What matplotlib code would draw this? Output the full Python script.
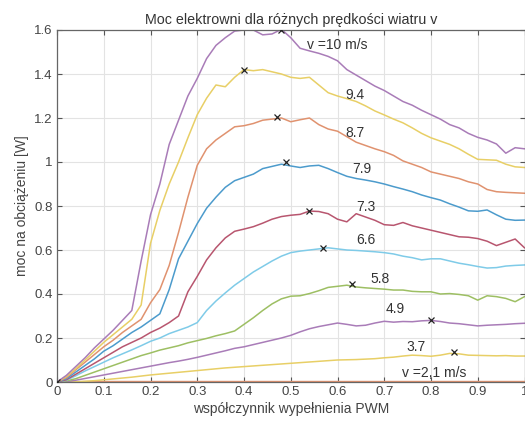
import matplotlib
matplotlib.use("Agg")
import matplotlib.pyplot as plt
import numpy as np

plt.rcParams['font.family'] = ['Liberation Sans', 'DejaVu Sans']

# duty cycle grid
duty = [0.00, 0.02, 0.04, 0.06, 0.08, 0.10, 0.12, 0.14, 0.16, 0.18,
        0.20, 0.22, 0.24, 0.26, 0.28, 0.30, 0.32, 0.34, 0.36, 0.38,
        0.40, 0.42, 0.44, 0.46, 0.48, 0.50, 0.52, 0.54, 0.56, 0.58,
        0.60, 0.62, 0.64, 0.66, 0.68, 0.70, 0.72, 0.74, 0.76, 0.78,
        0.80, 0.82, 0.84, 0.86, 0.88, 0.90, 0.92, 0.94, 0.96, 0.98, 1.00]

p_10 = [0, 0.03, 0.07, 0.11, 0.155, 0.195, 0.235, 0.28, 0.325, 0.55,
        0.76, 0.90, 1.08, 1.19, 1.30, 1.38, 1.47, 1.53, 1.565, 1.595,
        1.60, 1.60, 1.578, 1.582, 1.603, 1.565, 1.517, 1.505, 1.494, 1.48,
        1.46, 1.42, 1.395, 1.37, 1.345, 1.325, 1.30, 1.275, 1.258, 1.235,
        1.215, 1.195, 1.17, 1.155, 1.13, 1.112, 1.10, 1.082, 1.04, 1.065, 1.06]

p_94 = [0, 0.025, 0.06, 0.10, 0.14, 0.18, 0.215, 0.25, 0.285, 0.35,
        0.63, 0.78, 0.90, 1.00, 1.11, 1.215, 1.29, 1.35, 1.342, 1.385,
        1.42, 1.415, 1.42, 1.41, 1.40, 1.385, 1.38, 1.385, 1.35, 1.315,
        1.30, 1.288, 1.275, 1.255, 1.232, 1.214, 1.195, 1.178, 1.155, 1.13,
        1.11, 1.095, 1.08, 1.06, 1.035, 1.012, 1.01, 1.008, 0.99, 0.978, 0.975]

p_87 = [0, 0.02, 0.055, 0.09, 0.125, 0.16, 0.19, 0.225, 0.255, 0.285,
        0.36, 0.42, 0.53, 0.68, 0.84, 0.985, 1.06, 1.10, 1.13, 1.16,
        1.165, 1.175, 1.19, 1.195, 1.20, 1.183, 1.192, 1.20, 1.17, 1.15,
        1.14, 1.115, 1.09, 1.075, 1.06, 1.047, 1.03, 1.005, 0.99, 0.975,
        0.955, 0.945, 0.935, 0.925, 0.91, 0.90, 0.875, 0.865, 0.862, 0.86, 0.858]

p_79 = [0, 0.015, 0.045, 0.075, 0.105, 0.14, 0.165, 0.195, 0.225, 0.25,
        0.28, 0.31, 0.42, 0.56, 0.64, 0.72, 0.79, 0.84, 0.885, 0.915,
        0.93, 0.945, 0.97, 0.98, 0.99, 0.982, 0.975, 0.982, 0.985, 0.97,
        0.952, 0.935, 0.925, 0.918, 0.91, 0.90, 0.888, 0.877, 0.865, 0.85,
        0.838, 0.827, 0.81, 0.795, 0.778, 0.776, 0.782, 0.76, 0.74, 0.735, 0.736]

p_73 = [0, 0.01, 0.035, 0.06, 0.085, 0.11, 0.135, 0.16, 0.18, 0.20,
        0.225, 0.245, 0.27, 0.30, 0.41, 0.48, 0.555, 0.61, 0.655, 0.685,
        0.695, 0.706, 0.722, 0.74, 0.752, 0.758, 0.762, 0.777, 0.775, 0.765,
        0.74, 0.728, 0.765, 0.75, 0.735, 0.715, 0.712, 0.725, 0.71, 0.70,
        0.69, 0.68, 0.67, 0.66, 0.658, 0.652, 0.64, 0.62, 0.635, 0.65, 0.61]

p_66 = [0, 0.008, 0.028, 0.05, 0.07, 0.09, 0.11, 0.128, 0.146, 0.165,
        0.185, 0.20, 0.22, 0.235, 0.25, 0.27, 0.325, 0.368, 0.405, 0.44,
        0.47, 0.50, 0.525, 0.55, 0.572, 0.588, 0.595, 0.60, 0.605, 0.61,
        0.605, 0.60, 0.598, 0.595, 0.592, 0.588, 0.582, 0.572, 0.565, 0.555,
        0.56, 0.56, 0.55, 0.54, 0.533, 0.525, 0.518, 0.52, 0.527, 0.53, 0.532]

p_58 = [0, 0.005, 0.015, 0.03, 0.045, 0.06, 0.075, 0.09, 0.105, 0.12,
        0.132, 0.145, 0.155, 0.165, 0.178, 0.188, 0.198, 0.21, 0.22, 0.232,
        0.262, 0.292, 0.325, 0.355, 0.378, 0.39, 0.392, 0.402, 0.415, 0.43,
        0.435, 0.44, 0.432, 0.428, 0.425, 0.422, 0.418, 0.418, 0.412, 0.41,
        0.41, 0.40, 0.402, 0.398, 0.392, 0.372, 0.392, 0.388, 0.38, 0.365, 0.388]

p_49 = [0, 0.002, 0.008, 0.016, 0.024, 0.032, 0.04, 0.048, 0.056, 0.064,
        0.072, 0.08, 0.088, 0.095, 0.103, 0.112, 0.122, 0.132, 0.142, 0.153,
        0.16, 0.17, 0.18, 0.19, 0.20, 0.212, 0.228, 0.242, 0.252, 0.26,
        0.268, 0.262, 0.255, 0.258, 0.268, 0.276, 0.272, 0.275, 0.274, 0.278,
        0.28, 0.275, 0.268, 0.265, 0.26, 0.255, 0.258, 0.26, 0.262, 0.265, 0.267]

p_37 = [0, 0, 0.001, 0.003, 0.006, 0.01, 0.014, 0.018, 0.022, 0.027,
        0.032, 0.036, 0.04, 0.044, 0.048, 0.052, 0.056, 0.06, 0.064, 0.067,
        0.07, 0.073, 0.076, 0.079, 0.082, 0.085, 0.088, 0.091, 0.094, 0.097,
        0.10, 0.101, 0.102, 0.104, 0.106, 0.11, 0.113, 0.118, 0.122, 0.12,
        0.117, 0.122, 0.13, 0.128, 0.122, 0.121, 0.12, 0.119, 0.12, 0.118, 0.118]

p_21 = [0, 0.001, 0.001, 0.002, 0.002, 0.002, 0.002, 0.002, 0.002, 0.002,
        0.002, 0.002, 0.002, 0.002, 0.002, 0.002, 0.002, 0.002, 0.002, 0.002,
        0.002, 0.002, 0.002, 0.002, 0.002, 0.002, 0.002, 0.002, 0.002, 0.002,
        0.002, 0.002, 0.002, 0.002, 0.002, 0.002, 0.002, 0.002, 0.002, 0.002,
        0.002, 0.002, 0.002, 0.002, 0.002, 0.002, 0.002, 0.002, 0.002, 0.002, 0.002]

series = [p_21, p_37, p_49, p_58, p_66, p_73, p_79, p_87, p_94, p_10]
colors = ['#e0926f', '#e8cf66', '#a97cb8', '#9dbf63', '#7fcbe8',
          '#b8566f', '#4c9bcc', '#e0926f', '#e8cf66', '#a97cb8']

# maximum power points
mpp_x = [0.0, 0.85, 0.80, 0.63, 0.57, 0.54, 0.49, 0.47, 0.40, 0.48]
mpp_y = [0.0, 0.138, 0.282, 0.445, 0.61, 0.777, 1.0, 1.205, 1.42, 1.60]

# curve labels
lab_text = ['v =2,1 m/s', '3.7', '4.9', '5.8', '6.6', '7.3', '7.9', '8.7', '9.4', 'v =10 m/s']
lab_x = [0.806, 0.767, 0.724, 0.692, 0.66, 0.66, 0.652, 0.638, 0.638, 0.599]
lab_y = [0.042, 0.158, 0.33, 0.467, 0.645, 0.794, 0.966, 1.133, 1.305, 1.532]

xticks = [0, 0.1, 0.2, 0.3, 0.4, 0.5, 0.6, 0.7, 0.8, 0.9, 1.0]
xtick_labels = ['0', '0.1', '0.2', '0.3', '0.4', '0.5', '0.6', '0.7', '0.8', '0.9', '1']
yticks = [0, 0.2, 0.4, 0.6, 0.8, 1.0, 1.2, 1.4, 1.6]
ytick_labels = ['0', '0.2', '0.4', '0.6', '0.8', '1', '1.2', '1.4', '1.6']

fig = plt.figure(figsize=(5.25, 4.23), dpi=100)
ax = fig.add_axes([57 / 525, 41 / 423, 467.5 / 525, 352 / 423])

for s, c in zip(series, colors):
    ax.plot(duty, s, color=c, lw=1.1, zorder=2)

ax.plot(mpp_x, mpp_y, linestyle='none', marker='x', color='#222222',
        markersize=4.5, markeredgewidth=0.9, zorder=3)

for t, x, y in zip(lab_text, lab_x, lab_y):
    ax.text(x, y, t, ha='center', va='center', fontsize=10, color='#333333', zorder=4)

ax.set_xlim(0, 1)
ax.set_ylim(0, 1.6)
ax.set_xticks(xticks)
ax.set_xticklabels(xtick_labels)
ax.set_yticks(yticks)
ax.set_yticklabels(ytick_labels)
ax.grid(True, color='#e3e3e3', lw=0.8, zorder=0)
ax.set_axisbelow(True)
ax.tick_params(direction='in', top=True, right=True, length=3.5, width=0.8,
               colors='#555555', labelsize=9.5, labelcolor='#444444', pad=3)
for sp in ax.spines.values():
    sp.set_color('#666666')
    sp.set_linewidth(0.9)

ax.set_title('Moc elektrowni dla różnych prędkości wiatru v', fontsize=10.3,
             color='#333333', pad=4)
ax.set_xlabel('współczynnik wypełnienia PWM', fontsize=10, color='#444444', labelpad=3)
ax.set_ylabel('moc na obciążeniu [W]', fontsize=10, color='#444444', labelpad=4)

fig.savefig('out.png', dpi=100)
